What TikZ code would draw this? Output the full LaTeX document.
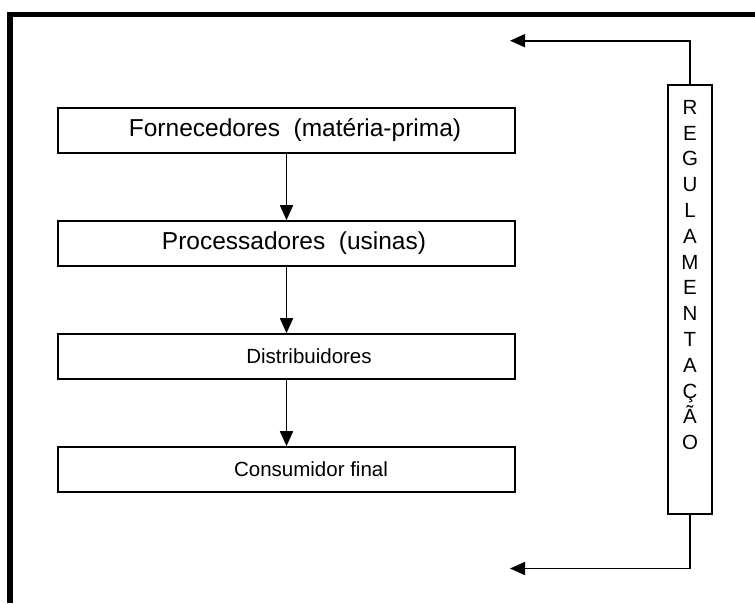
\documentclass[tikz,border=0pt]{standalone}
\usepackage{fontspec}
\setmainfont{Liberation Sans}
\usetikzlibrary{arrows.meta}
\begin{document}
\begin{tikzpicture}[x=1pt,y=-1pt,
  flowbox/.style={draw,line width=1.6pt,minimum width=457pt,minimum height=45pt,inner sep=0pt},
  bigtext/.style={inner sep=0pt,font=\fontsize{24.5}{28}\selectfont},
  smalltext/.style={inner sep=0pt,font=\fontsize{20.5}{24}\selectfont},
  regbox/.style={draw,line width=1.6pt,minimum width=44pt,minimum height=429pt,inner sep=0pt},
  regtext/.style={inner sep=0pt,align=center,font=\fontsize{20.5}{25.8}\selectfont},
  conn/.style={line width=1.6pt,-{Triangle[length=15pt,width=13pt]}},
  frame/.style={line width=5.5pt}]
\useasboundingbox (0,0) rectangle (755,603);
\draw[frame] (10,603) -- (10,14.5) -- (755,14.5);
\node[flowbox] (f) at (286.5,130.5) {};
\node[flowbox] (p) at (286.5,243.5) {};
\node[flowbox] (d) at (286.5,356.5) {};
\node[flowbox] (c) at (286.5,469.5) {};
\node[bigtext] (ft) at (295,130.5) {Fornecedores\ \ (matéria-prima)};
\node[bigtext] (pt) at (294,243.5) {Processadores\ \ (usinas)};
\node[smalltext] (dt) at (309,356.5) {Distribuidores};
\node[smalltext] (ct) at (311,469.5) {Consumidor final};
\draw[conn] (f) -- (p);
\draw[conn] (p) -- (d);
\draw[conn] (d) -- (c);
\node[regbox] (r) at (690,299.5) {};
\node[regtext] (rt) at (690,275) {R\\E\\G\\U\\L\\A\\M\\E\\N\\T\\A\\Ç\\Ã\\O};
\coordinate (ta) at (510,40.7);
\coordinate (ba) at (510,568.5);
\draw[conn] (r.north) |- (ta);
\draw[conn] (r.south) |- (ba);
\end{tikzpicture}
\end{document}
